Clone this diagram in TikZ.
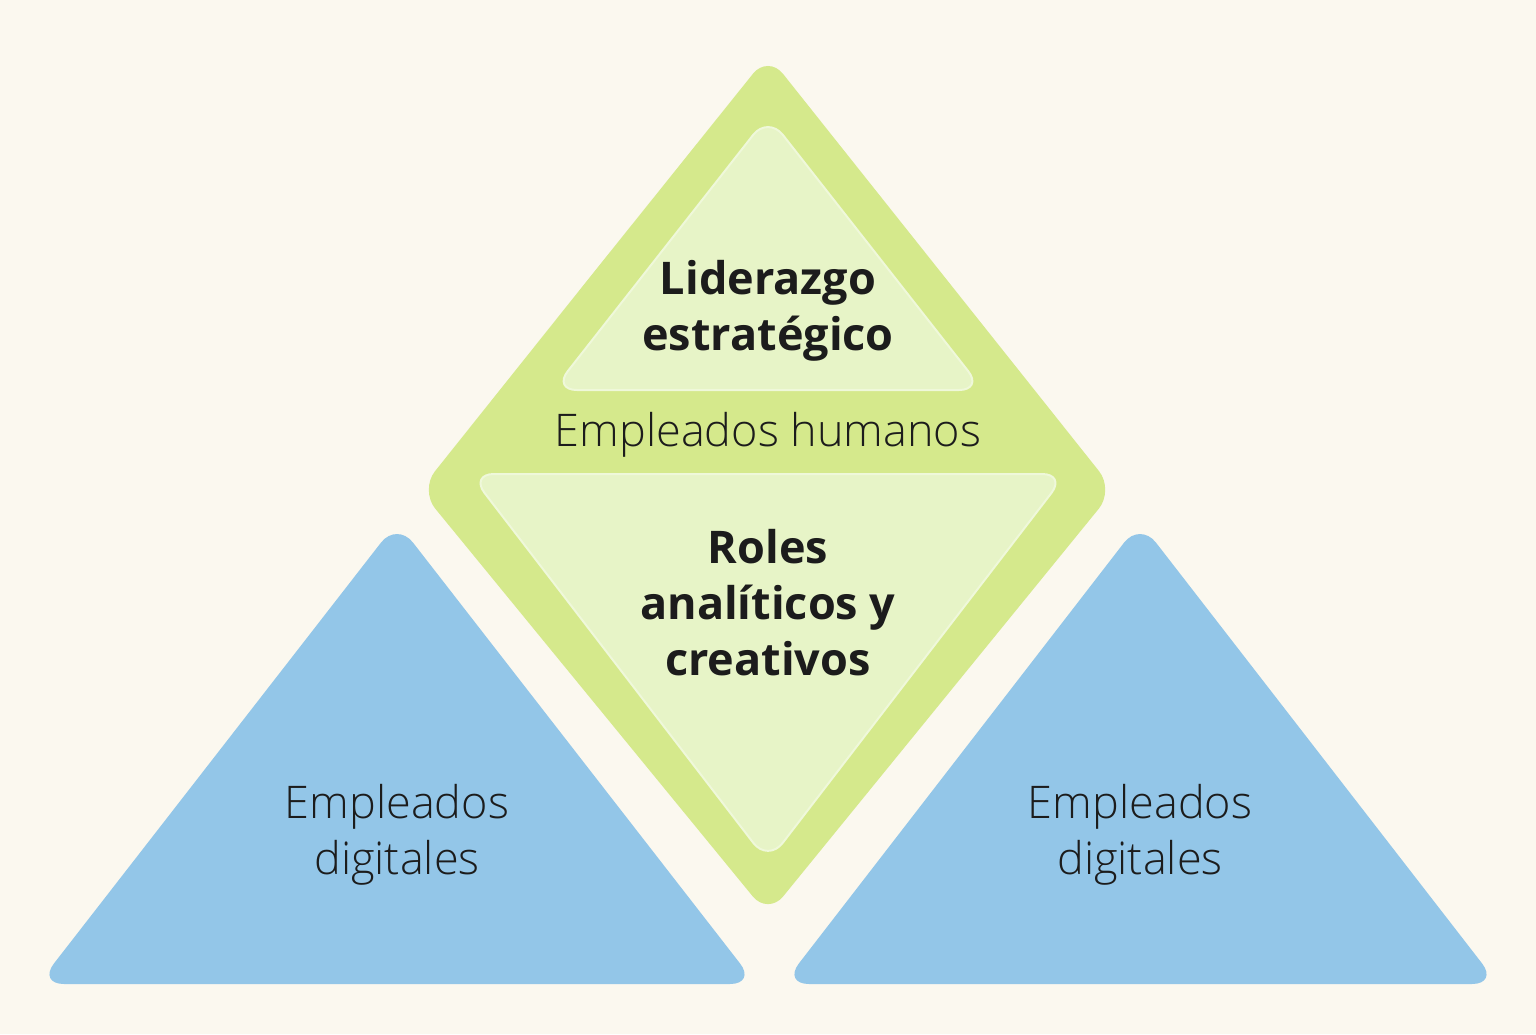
\documentclass[tikz,border=0pt]{standalone}
\usepackage{fontspec}
\setmainfont{Open Sans}
\newfontfamily\lightfont{Open Sans Light}
\definecolor{bgc}{HTML}{FBF8EF}
\definecolor{greenc}{HTML}{D5E98C}
\definecolor{lightg}{HTML}{E7F4C7}
\definecolor{lightb}{HTML}{EFF8DA}
\definecolor{bluec}{HTML}{93C6E8}
\definecolor{txt}{HTML}{1C1C1C}
\begin{document}
\begin{tikzpicture}[x=1pt,y=-1pt,
  lbl/.style={font=\fontsize{45}{56}\selectfont\lightfont, text=txt, align=center, inner sep=0pt},
  bld/.style={font=\fontsize{45}{56}\selectfont\bfseries, text=txt, align=center, inner sep=0pt},
  outer/.style={fill=greenc, rounded corners=24pt},
  inner/.style={fill=lightg, draw=lightb, line width=2pt, rounded corners=24pt},
  digi/.style={fill=bluec, rounded corners=26pt}]
\fill[bgc] (0,0) rectangle (1536,1034);
\useasboundingbox (0,0) rectangle (1536,1034);
% blue triangles
\path[digi] (397,984) -- (38,984) -- (397,522) -- (756,984) -- cycle;
\path[digi] (1140,984) -- (783,984) -- (1140,522) -- (1498,984) -- cycle;
% green diamond
\path[outer] (594,272) -- (768,55) -- (1114,490) -- (768,915) -- (420,490) -- cycle;
% inner triangles
\path[inner] (768,390) -- (553,390) -- (768,116) -- (983,390) -- cycle;
\path[inner] (768,474) -- (1066,474) -- (768,862) -- (470,474) -- cycle;
% labels
\node[bld] (lid) at (768,311) {Liderazgo\\estratégico};
\node[lbl, anchor=base] (hum) at (768,446) {Empleados humanos};
\node[bld] (rol) at (768,603) {Roles\\analíticos y\\creativos};
\node[lbl] (dig1) at (397,835) {Empleados\\digitales};
\node[lbl] (dig2) at (1140,835) {Empleados\\digitales};
\end{tikzpicture}
\end{document}
